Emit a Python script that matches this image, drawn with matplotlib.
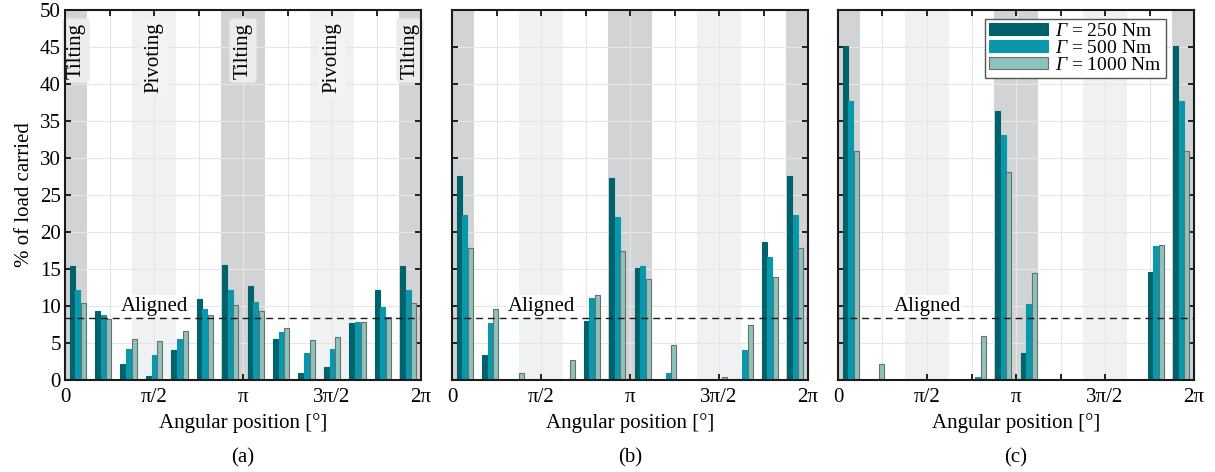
import numpy as np
import matplotlib
matplotlib.use('Agg')
import matplotlib.pyplot as plt

plt.rcParams['font.family'] = ['Liberation Serif', 'DejaVu Serif']
plt.rcParams['mathtext.fontset'] = 'custom'
plt.rcParams['mathtext.rm'] = 'Liberation Serif:italic'
plt.rcParams['mathtext.it'] = 'Liberation Serif:italic'
plt.rcParams['font.size'] = 15

# 14 rollers, load share (%) per roller for three torque levels
n_rollers = 14
torques = [250, 500, 1000]

a_250 = [15.4, 9.3, 2.2, 0.5, 4.0, 11.0, 15.5, 12.7, 5.5, 1.0, 1.7, 7.7, 12.2, 15.4]
a_500 = [12.2, 8.8, 4.2, 3.4, 5.6, 9.6, 12.2, 10.6, 6.5, 3.7, 4.2, 7.8, 9.9, 12.2]
a_1000 = [10.4, 8.3, 5.5, 5.3, 6.6, 8.8, 10.2, 9.3, 7.0, 5.4, 5.8, 7.9, 8.5, 10.4]

b_250 = [27.6, 3.4, 0, 0, 0, 8.0, 27.3, 15.2, 0, 0, 0, 0.1, 18.7, 27.6]
b_500 = [22.3, 7.7, 0, 0, 0, 11.1, 22.0, 15.4, 0.9, 0, 0, 4.0, 16.6, 22.3]
b_1000 = [17.8, 9.6, 0.9, 0, 2.7, 11.5, 17.5, 13.7, 4.7, 0, 0.35, 7.4, 13.9, 17.8]

c_250 = [45.2, 0, 0, 0, 0, 0, 36.4, 3.7, 0, 0, 0, 0, 14.6, 45.2]
c_500 = [37.7, 0, 0, 0, 0, 0.45, 33.1, 10.3, 0, 0, 0, 0, 18.1, 37.7]
c_1000 = [31.0, 2.1, 0, 0, 0, 5.9, 28.1, 14.4, 0, 0, 0, 0, 18.3, 31.0]

panels = [('(a)', [a_250, a_500, a_1000]),
          ('(b)', [b_250, b_500, b_1000]),
          ('(c)', [c_250, c_500, c_1000])]

aligned = 100 / 12

tick_labels = ['0', '', 'π/2', '', 'π', '', '3π/2', '', '2π']

colors = ['#00636b', '#0897ab', '#8bc4bc']
edges = ['#00636b', '#0897ab', '#6e6e6e']

theta = (np.arange(n_rollers) + 0.5) * 2 * np.pi / n_rollers
bar_w = 0.088
offsets = [-0.099, 0, 0.099]

fig = plt.figure(figsize=(12.15, 4.72), dpi=100)
lefts = [65, 452, 838]
width_px = 356

for i, (tag, series) in enumerate(panels):
    ax = fig.add_axes([lefts[i] / 1215, 1 - 380 / 472, width_px / 1215, 370 / 472])

    # tilting / pivoting zones
    for c in [0, np.pi, 2 * np.pi]:
        ax.axvspan(c - np.pi / 8, c + np.pi / 8, color='#d2d3d5', lw=0, zorder=0)
    for c in [np.pi / 2, 3 * np.pi / 2]:
        ax.axvspan(c - np.pi / 8, c + np.pi / 8, color='#f0f1f3', lw=0, zorder=0)

    for j, vals in enumerate(series):
        ax.bar(theta + offsets[j], vals, width=bar_w, color=colors[j],
               edgecolor=edges[j], linewidth=0.8, zorder=3,
               label=r'$\Gamma$ = %d Nm' % torques[j])

    ax.axhline(aligned, color='#1a1a1a', ls=(0, (5, 3.5)), lw=1.0, zorder=4)
    ax.text(np.pi / 2, aligned + 0.35, 'Aligned', ha='center', va='bottom',
            zorder=3.5, bbox=dict(facecolor='white', edgecolor='none', pad=1.0))

    ax.set_xlim(0, 2 * np.pi)
    ax.set_ylim(0, 50)
    ax.set_xticks(np.arange(9) * np.pi / 4)
    ax.set_xticklabels(tick_labels)
    ax.set_yticks(np.arange(0, 51, 5))
    if i > 0:
        ax.set_yticklabels([])
    else:
        ax.set_ylabel('% of load carried', labelpad=4)
    ax.tick_params(direction='in', top=True, right=True, length=4, width=1.2,
                   labelsize=15, pad=6)
    ax.tick_params(axis='y', pad=3)
    ax.grid(True, color='#e6e6e6', lw=0.8, zorder=0.5)
    ax.set_axisbelow(True)
    for s in ax.spines.values():
        s.set_linewidth(1.5)
        s.set_color('#1a1a1a')
        s.set_zorder(5)
    ax.set_xlabel('Angular position [°]', labelpad=4)
    ax.text(0.5, -0.21, tag, transform=ax.transAxes, ha='center', va='center')

    if i == 0:
        box = dict(boxstyle='round,pad=0.2', facecolor='#ececec', edgecolor='none')
        for x in [np.pi / 16, np.pi, 2 * np.pi - np.pi / 16]:
            ax.text(x, 48.3, 'Tilting', rotation=90, ha='center', va='top',
                    zorder=4, bbox=box)
        box2 = dict(boxstyle='round,pad=0.2', facecolor='#f3f3f4', edgecolor='none')
        for x in [np.pi / 2, 3 * np.pi / 2]:
            ax.text(x, 48.3, 'Pivoting', rotation=90, ha='center', va='top',
                    zorder=4, bbox=box2)

    if i == 2:
        leg = ax.legend(loc='upper right', bbox_to_anchor=(0.9216, 0.9757),
                        borderaxespad=0, fancybox=False, framealpha=1,
                        edgecolor='#555555', fontsize=14, handlelength=3.0,
                        handleheight=0.5, labelspacing=0.0, borderpad=0.2,
                        handletextpad=0.4)
        leg.get_frame().set_linewidth(1.0)
        leg.set_zorder(6)

fig.savefig('out.png', dpi=100)
